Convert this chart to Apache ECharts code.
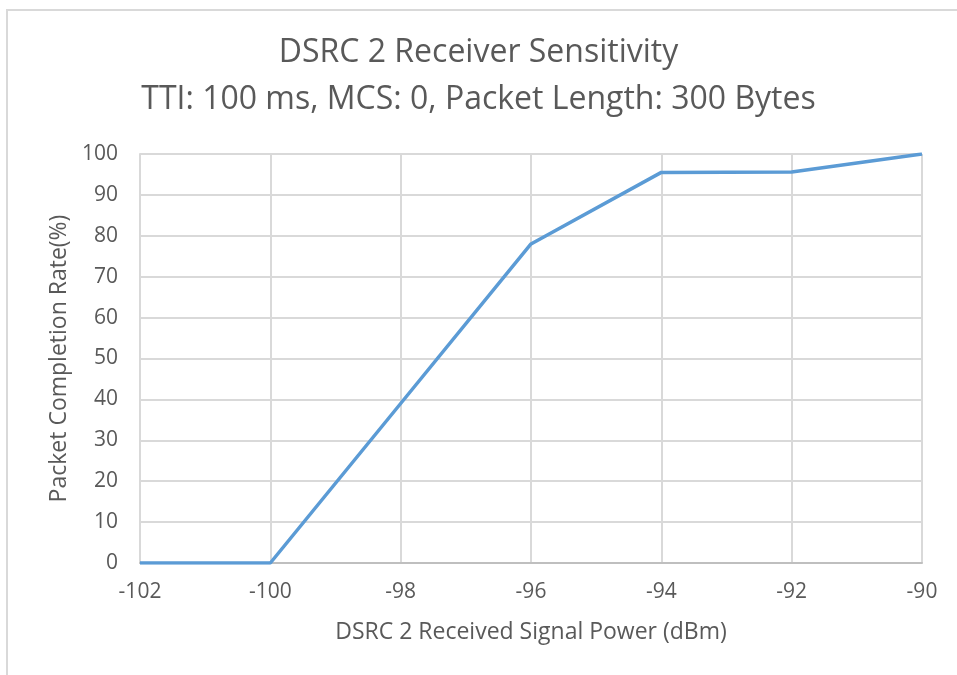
<!DOCTYPE html>
<html><head><meta charset="utf-8">
<script src="https://cdn.jsdelivr.net/npm/echarts@6/dist/echarts.min.js"></script>
<style>
html,body{margin:0;padding:0;background:#fff;}
#frame{position:absolute;left:6px;top:9px;width:951px;height:666px;border-left:2px solid #d9d9d9;border-top:2px solid #d9d9d9;}
#c{position:absolute;left:0;top:0;width:957px;height:675px;}
</style></head>
<body>
<div id="frame"></div>
<div id="c"></div>
<script>
const titleLine1 = 'DSRC 2 Receiver Sensitivity';
const titleLine2 = 'TTI: 100 ms, MCS: 0, Packet Length: 300 Bytes';
const xName = 'DSRC 2 Received Signal Power (dBm)';
const yName = 'Packet Completion Rate(%)';
const power = [-102, -100, -98, -96, -94, -92, -90];
const completion = [0, 0, 39, 78, 95.5, 95.6, 100];

const chart = echarts.init(document.getElementById('c'), null, {renderer:'canvas'});
const font = '"Open Sans", "Liberation Sans", sans-serif';
chart.setOption({
  backgroundColor: 'transparent',
  animation: false,
  title: [
    {text: titleLine1, left: 'center', top: 32, textStyle: {fontFamily: font, fontSize: 32, fontWeight: 'normal', color: '#595959'}},
    {text: titleLine2, left: 'center', top: 79, textStyle: {fontFamily: font, fontSize: 32, fontWeight: 'normal', color: '#595959'}}
  ],
  grid: {left: 140, right: 35, top: 154, bottom: 112, containLabel: false},
  xAxis: {
    type: 'value', min: -102, max: -90, interval: 2,
    name: xName, nameLocation: 'middle', nameGap: 58,
    nameTextStyle: {fontFamily: font, fontSize: 23, color: '#595959'},
    axisLine: {show: true, onZero: false, lineStyle: {color: '#bfbfbf', width: 2}},
    axisTick: {show: false},
    axisLabel: {fontFamily: font, fontSize: 21, color: '#595959', margin: 19},
    splitLine: {show: true, lineStyle: {color: '#d9d9d9', width: 2}}
  },
  yAxis: {
    type: 'value', min: 0, max: 100, interval: 10,
    name: yName, nameLocation: 'middle', nameGap: 68,
    nameTextStyle: {fontFamily: font, fontSize: 23, color: '#595959'},
    axisLine: {show: true, lineStyle: {color: '#d9d9d9', width: 2}},
    axisTick: {show: false},
    axisLabel: {fontFamily: font, fontSize: 21, color: '#595959', margin: 22},
    splitLine: {show: true, lineStyle: {color: '#d9d9d9', width: 2}}
  },
  series: [{
    type: 'line',
    data: power.map((p, i) => [p, completion[i]]),
    showSymbol: false,
    lineStyle: {color: '#5b9bd5', width: 3.5},
    itemStyle: {color: '#5b9bd5'}
  }]
});
</script>
</body></html>
